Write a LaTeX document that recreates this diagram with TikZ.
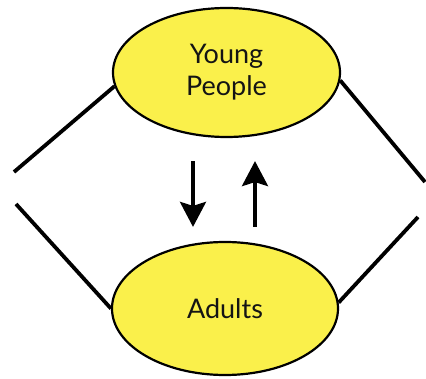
\documentclass[tikz,border=0pt]{standalone}
\usepackage{fontspec}
\setmainfont{Lato}
\usetikzlibrary{shapes.geometric,arrows.meta}
\definecolor{bubble}{RGB}{250,240,75}
\begin{document}
\begin{tikzpicture}[x=1pt,y=-1pt,
  group/.style={ellipse,draw=black,line width=2.2pt,fill=bubble,
    inner sep=0pt,text=black!92,font=\fontsize{27}{32}\selectfont,align=center},
  link/.style={line width=3.8pt,black},
  flow/.style={line width=3.4pt,black,-{Stealth[length=25pt,width=26pt,inset=4pt]}}]
  \useasboundingbox (0,0) rectangle (426,379);
  % the two groups
  \node[group,minimum width=227pt,minimum height=129pt] (young) at (226.5,72.5) {Young\\People};
  \node[group,minimum width=226pt,minimum height=133pt] (adults) at (225,308.5) {Adults};
  % free ends of the side links
  \coordinate (lt) at (14,172);
  \coordinate (lb) at (16,204);
  \coordinate (rt) at (425,182);
  \coordinate (rb) at (418,217);
  % side links
  \draw[link] (young.187) -- (lt);
  \draw[link] (adults.180) -- (lb);
  \draw[link] (young.356) -- (rt);
  \draw[link] (adults.3) -- (rb);
  % exchange arrows
  \draw[flow,shorten <=23pt,shorten >=14pt] ([xshift=-33.5pt]young.south) -- ([xshift=-32pt]adults.north);
  \draw[flow,shorten <=14pt,shorten >=23pt] ([xshift=30pt]adults.north) -- ([xshift=28.5pt]young.south);
\end{tikzpicture}
\end{document}
